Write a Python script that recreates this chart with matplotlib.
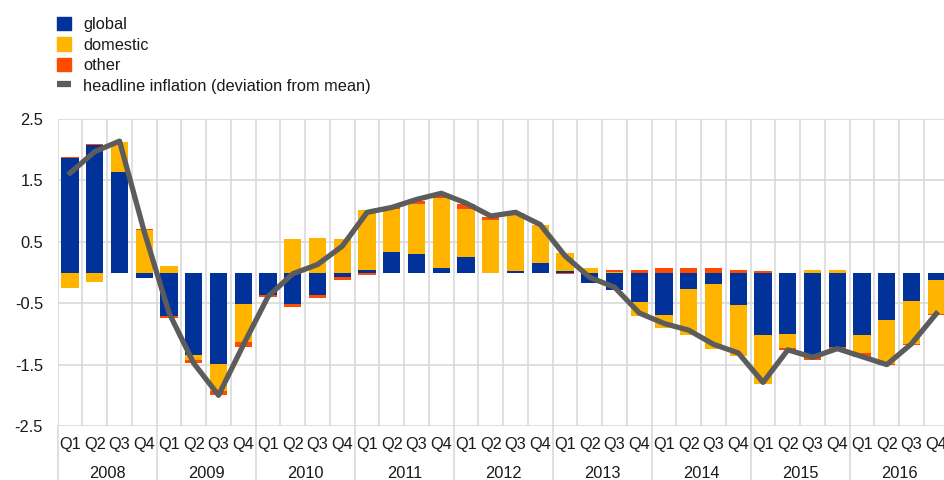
import numpy as np
import matplotlib.pyplot as plt
from matplotlib.patches import Patch
from matplotlib.lines import Line2D

plt.rcParams['font.family'] = ['Liberation Sans', 'DejaVu Sans']

years = ['2008', '2009', '2010', '2011', '2012', '2013', '2014', '2015', '2016']
quarters = ['Q1', 'Q2', 'Q3', 'Q4']

# contributions, percentage points, 2008Q1 - 2016Q4
global_c = [1.87, 2.07, 1.64, -0.09, -0.71, -1.35, -1.49, -0.52, -0.36, -0.52, -0.37, -0.08,
            0.04, 0.34, 0.30, 0.08, 0.25, 0.00, 0.03, 0.16, 0.02, -0.17, -0.29, -0.48,
            -0.69, -0.27, -0.18, -0.53, -1.02, -1.00, -1.38, -1.22, -1.02, -0.78, -0.46, -0.12]
domestic_c = [-0.26, -0.16, 0.48, 0.70, 0.10, -0.08, -0.44, -0.62, 0.00, 0.54, 0.56, 0.54,
              0.97, 0.70, 0.82, 1.13, 0.79, 0.86, 0.93, 0.61, 0.29, 0.075, 0.01, -0.23,
              -0.21, -0.745, -1.06, -0.83, -0.80, -0.23, 0.04, 0.04, -0.29, -0.71, -0.71, -0.56]
other_c = [0.015, 0.025, 0.01, 0.01, -0.03, -0.045, -0.065, -0.07, -0.04, -0.04, -0.05, -0.04,
           -0.04, 0.02, 0.05, 0.04, 0.07, 0.05, 0.01, 0.0, -0.02, 0.0, 0.03, 0.04,
           0.07, 0.075, 0.075, 0.045, 0.02, -0.04, -0.05, -0.04, -0.065, -0.02, -0.015, -0.015]
headline = [1.62, 1.97, 2.14, 0.66, -0.66, -1.48, -2.0, -1.18, -0.39, -0.02, 0.13, 0.43,
            0.98, 1.06, 1.19, 1.29, 1.13, 0.92, 0.98, 0.78, 0.27, -0.08, -0.24, -0.66,
            -0.83, -0.94, -1.17, -1.31, -1.79, -1.26, -1.38, -1.24, -1.37, -1.50, -1.16, -0.67]

series = [('global', global_c, '#003299'),
          ('domestic', domestic_c, '#FFB400'),
          ('other', other_c, '#FF4B00')]

n = len(headline)
x = np.arange(n)
fs = 11.8
txt_c = '#1A1A1A'

fig = plt.figure(figsize=(9.44, 4.8), dpi=100)
ax = fig.add_axes([57.7 / 944, 54 / 480, 891 / 944, 307 / 480])

pos_base = np.zeros(n)
neg_base = np.zeros(n)
for name, vals, col in series:
    v = np.array(vals)
    pos = np.where(v > 0, v, 0)
    neg = np.where(v < 0, v, 0)
    ax.bar(x, pos, 0.7, bottom=pos_base, color=col, zorder=2)
    ax.bar(x, neg, 0.7, bottom=neg_base, color=col, zorder=2)
    pos_base += pos
    neg_base += neg

ax.plot(x, headline, color='#5C5C5C', lw=3.8, zorder=3)

ax.set_xlim(-0.5, n - 0.5)
ax.set_ylim(-2.5, 2.5)
ax.set_yticks([-2.5, -1.5, -0.5, 0.5, 1.5, 2.5])
ax.set_yticklabels(['-2.5', '-1.5', '-0.5', '0.5', '1.5', '2.5'])
ax.tick_params(axis='y', length=0, pad=10.5, labelsize=fs, labelcolor=txt_c)
ax.set_xticks([])
for s in ax.spines.values():
    s.set_visible(False)

grid_c = '#D9D9D9'
for yv in [-2.5, -1.5, -0.5, 0.5, 1.5, 2.5]:
    ax.axhline(yv, color=grid_c, lw=1.2, zorder=1)
for b in range(n + 1):
    ax.axvline(b - 0.5, color=grid_c, lw=1.2, zorder=1)

# year separators run down through the category labels
trans = ax.get_xaxis_transform()
for k in range(len(years) + 1):
    ax.plot([4 * k - 0.5] * 2, [0, -0.25], color=grid_c, lw=1.2,
            transform=trans, clip_on=False)

for i in range(n):
    ax.text(i, -19 / 307, quarters[i % 4], transform=trans, ha='center', va='center',
            fontsize=fs, color=txt_c)
for k, yr in enumerate(years):
    ax.text(4 * k + 1.5, -48 / 307, yr, transform=trans, ha='center', va='center',
            fontsize=fs, color=txt_c)

handles = [Patch(color=c) for _, _, c in series]
handles.append(Line2D([0], [0], color='#5C5C5C', lw=4.5, solid_capstyle='butt'))
labels = [s[0] for s in series] + ['headline inflation (deviation from mean)']
fig.legend(handles, labels, loc='upper left', bbox_to_anchor=(57 / 944, 1 - 17 / 480),
           frameon=False, fontsize=fs, handlelength=0.85, handleheight=0.85,
           handletextpad=0.75, labelspacing=0.32, borderaxespad=0, borderpad=0,
           labelcolor=txt_c)

fig.savefig('out.png', dpi=100)
